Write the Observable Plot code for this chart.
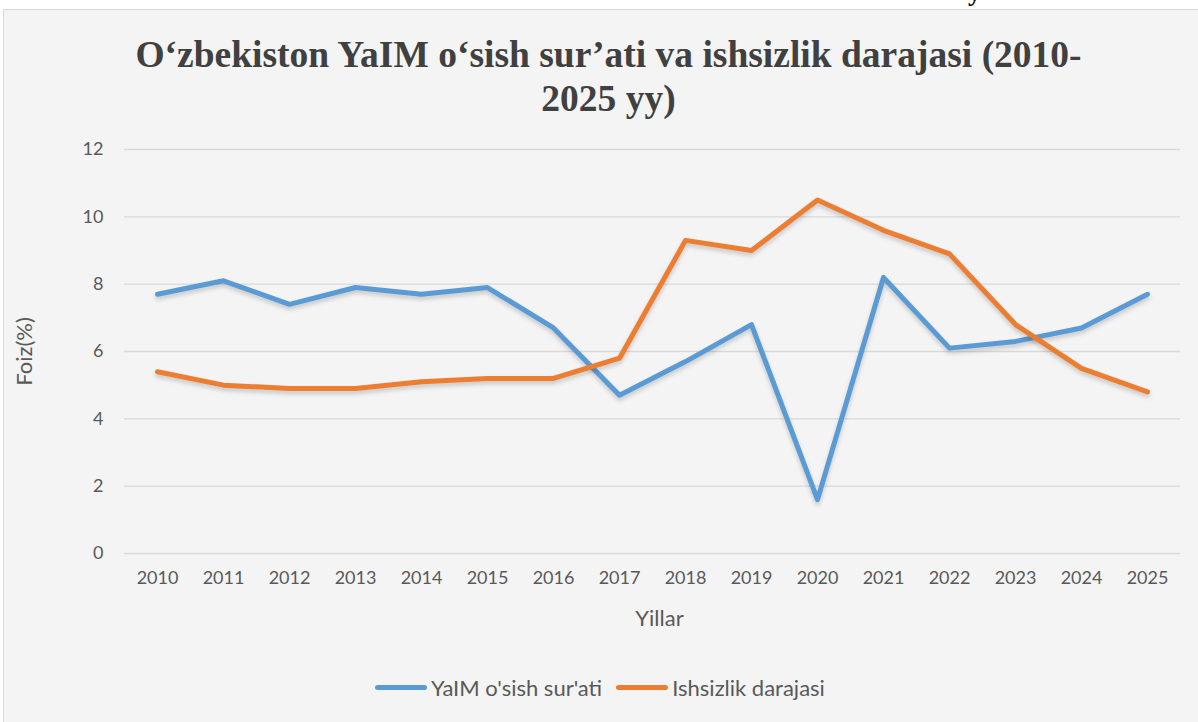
<!DOCTYPE html>
<html>
<head>
<meta charset="utf-8">
<script src="https://cdn.jsdelivr.net/npm/d3@7"></script>
<script src="https://cdn.jsdelivr.net/npm/@observablehq/plot@0.6"></script>
<style>
  html, body { margin: 0; padding: 0; background: #ffffff; width: 1198px; height: 722px; overflow: hidden; }
  #top { position: absolute; left: 0; top: 0; width: 1198px; height: 9px; overflow: hidden; }
  #top span { position: absolute; left: 968px; top: -22px; font: bold 26px "Liberation Serif", serif; color: #000; }
  #panel { position: absolute; left: 3px; top: 9px; width: 1200px; height: 720px; background: #f4f4f4; border: 1px solid #d9d9d9; box-sizing: border-box; }
  #title { position: absolute; left: 0; top: 33px; width: 1217px; text-align: center; font: bold 37.5px/44px "Liberation Serif", serif; color: #404040; }
  #chart { position: absolute; left: 0; top: 125px; }
  #legend { position: absolute; top: 674px; left: 0; width: 1198px; display: flex; justify-content: center; gap: 14px; font: 22px Lato, sans-serif; color: #595959; padding-left: 2px; box-sizing: border-box; }
  .item { display: flex; align-items: center; }
  .sw { width: 52px; height: 5px; border-radius: 3px; margin-right: 4px; }
</style>
</head>
<body>
<div id="top"><span>y</span></div>
<div id="panel"></div>
<div id="title">O‘zbekiston YaIM o‘sish sur’ati va ishsizlik darajasi (2010-<br>2025 yy)</div>
<div id="chart"></div>
<div id="legend"></div>
<script>
const years = ["2010","2011","2012","2013","2014","2015","2016","2017","2018","2019","2020","2021","2022","2023","2024","2025"];
const gdpGrowth = [7.7, 8.1, 7.4, 7.9, 7.7, 7.9, 6.7, 4.7, 5.7, 6.8, 1.6, 8.2, 6.1, 6.3, 6.7, 7.7];
const unemployment = [5.4, 5.0, 4.9, 4.9, 5.1, 5.2, 5.2, 5.8, 9.3, 9.0, 10.5, 9.6, 8.9, 6.8, 5.5, 4.8];
const seriesNames = ["YaIM o'sish sur'ati", "Ishsizlik darajasi"];
const seriesColors = ["#5b9bd5", "#ed7d31"];
const yTicks = [0, 2, 4, 6, 8, 10, 12];

const rows = [];
years.forEach((y, i) => {
  rows.push({year: y, value: gdpGrowth[i], series: seriesNames[0]});
  rows.push({year: y, value: unemployment[i], series: seriesNames[1]});
});

const chart = Plot.plot({
  width: 1198,
  height: 520,
  marginTop: 24,
  marginBottom: 92,
  marginLeft: 124,
  marginRight: 18,
  style: { background: "transparent", fontFamily: "Lato, sans-serif", fontSize: "18px", color: "#595959" },
  x: { type: "point", domain: years, padding: 0.5, label: "Yillar", labelAnchor: "center", labelArrow: "none" },
  y: { domain: [0, 12], ticks: yTicks, label: "Foiz(%)", labelAnchor: "center", labelArrow: "none" },
  color: { domain: seriesNames, range: seriesColors },
  marks: [
    Plot.gridY(yTicks, { stroke: "#d9d9d9", strokeOpacity: 1, strokeWidth: 1.3 }),
    Plot.axisY(yTicks, { tickSize: 0, tickPadding: 21, label: "Foiz(%)", labelAnchor: "center", labelArrow: "none", labelOffset: 108, fill: "#595959" }),
    Plot.axisX({ tickSize: 0, tickPadding: 18, label: "Yillar", labelAnchor: "center", labelArrow: "none", labelOffset: 72, fill: "#595959" }),
    Plot.line(rows, { x: "year", y: "value", z: "series", stroke: "series", strokeWidth: 5, strokeLinecap: "round", strokeLinejoin: "round", className: "series-line" })
  ]
});
document.getElementById("chart").appendChild(chart);
d3.select(chart).selectAll(".series-line path").style("filter", "drop-shadow(0px 3px 2px rgba(0,0,0,0.18))");
d3.select(chart).selectAll("[aria-label='y-axis label'] text, [aria-label='x-axis label'] text").style("font-size", "22px");
d3.select(chart).selectAll("[aria-label='x-axis label'] text").attr("dx", 7);

const legend = d3.select("#legend");
seriesNames.forEach((n, i) => {
  const it = legend.append("div").attr("class", "item");
  it.append("div").attr("class", "sw").style("background", seriesColors[i]);
  it.append("span").text(n);
});
</script>
</body>
</html>
